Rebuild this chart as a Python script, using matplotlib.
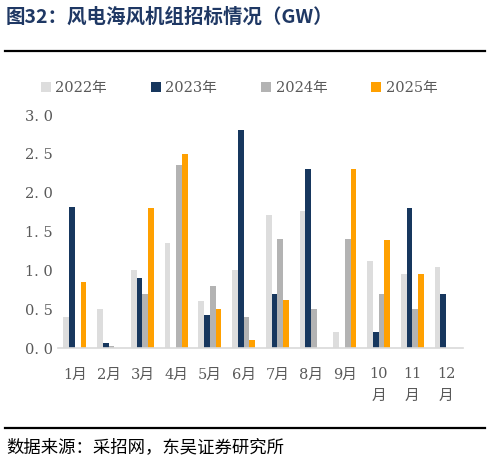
import matplotlib.pyplot as plt
import numpy as np

plt.rcParams['font.family'] = ['DejaVu Serif', 'Noto Sans CJK SC']

# data (GW)
months = ['1月', '2月', '3月', '4月', '5月', '6月', '7月', '8月', '9月', '10\n月', '11\n月', '12\n月']
y2022 = [0.40, 0.50, 1.01, 1.35, 0.61, 1.01, 1.71, 1.76, 0.21, 1.12, 0.95, 1.04]
y2023 = [1.81, 0.06, 0.90, 0.00, 0.42, 2.81, 0.70, 2.31, 0.00, 0.21, 1.80, 0.70]
y2024 = [0.00, 0.02, 0.70, 2.36, 0.80, 0.40, 1.40, 0.50, 1.40, 0.70, 0.50, 0.00]
y2025 = [0.85, 0.00, 1.80, 2.50, 0.50, 0.10, 0.62, 0.00, 2.31, 1.39, 0.95, 0.00]
series_names = ['2022年', '2023年', '2024年', '2025年']
colors = ['#DDDDDD', '#17375E', '#B3B3B3', '#FFA000']
yticks = [0.0, 0.5, 1.0, 1.5, 2.0, 2.5, 3.0]

fig = plt.figure(figsize=(4.9, 4.69), dpi=100)
ax = fig.add_axes([58 / 490, 1 - 348 / 469, 405 / 490, 233 / 469])

x = np.arange(len(months))
w = 0.172
for i, (vals, name, c) in enumerate(zip([y2022, y2023, y2024, y2025], series_names, colors)):
    ax.bar(x + (i - 1.5) * w, vals, width=w, color=c, label=name)

ax.set_xlim(-0.5, len(months) - 0.5)
ax.set_ylim(0, 3.0)
ax.set_yticks(yticks)
# spaced-out decimals like the original "3. 0"
ax.set_yticklabels([('%.1f' % v).replace('.', '. ') for v in yticks])
ax.set_xticks(x)
ax.set_xticklabels(months, linespacing=1.7)
ax.tick_params(axis='both', length=0, labelsize=10.5, colors='#595959')
ax.tick_params(axis='x', pad=14)
ax.tick_params(axis='y', pad=24)
for t in ax.get_yticklabels():
    t.set_horizontalalignment('left')
for s in ['top', 'right', 'left']:
    ax.spines[s].set_visible(False)
ax.spines['bottom'].set_color('#D9D9D9')
ax.spines['bottom'].set_linewidth(1.2)

leg = fig.legend(loc='center', bbox_to_anchor=(0.488, 1 - 88 / 469), ncol=4, frameon=False,
                 fontsize=10.5, handlelength=0.7, handleheight=0.7, handletextpad=0.3,
                 columnspacing=3.0)
for t in leg.get_texts():
    t.set_color('#595959')

fig.text(6 / 490, 1 - 17 / 469, '图32：风电海风机组招标情况（GW）', fontsize=14, fontweight='bold',
         color='#1F3864', va='center', ha='left', family=['Noto Sans CJK SC'])
fig.add_artist(plt.Line2D([5 / 490, 485 / 490], [1 - 51 / 469] * 2, color='black', lw=1.6))
fig.add_artist(plt.Line2D([5 / 490, 485 / 490], [1 - 428 / 469] * 2, color='black', lw=1.6))
fig.text(6 / 490, 1 - 447 / 469, '数据来源：采招网，东吴证券研究所', fontsize=12.5, color='black',
         va='center', ha='left', family=['Noto Sans CJK SC'])

fig.savefig('out.png', dpi=100)
